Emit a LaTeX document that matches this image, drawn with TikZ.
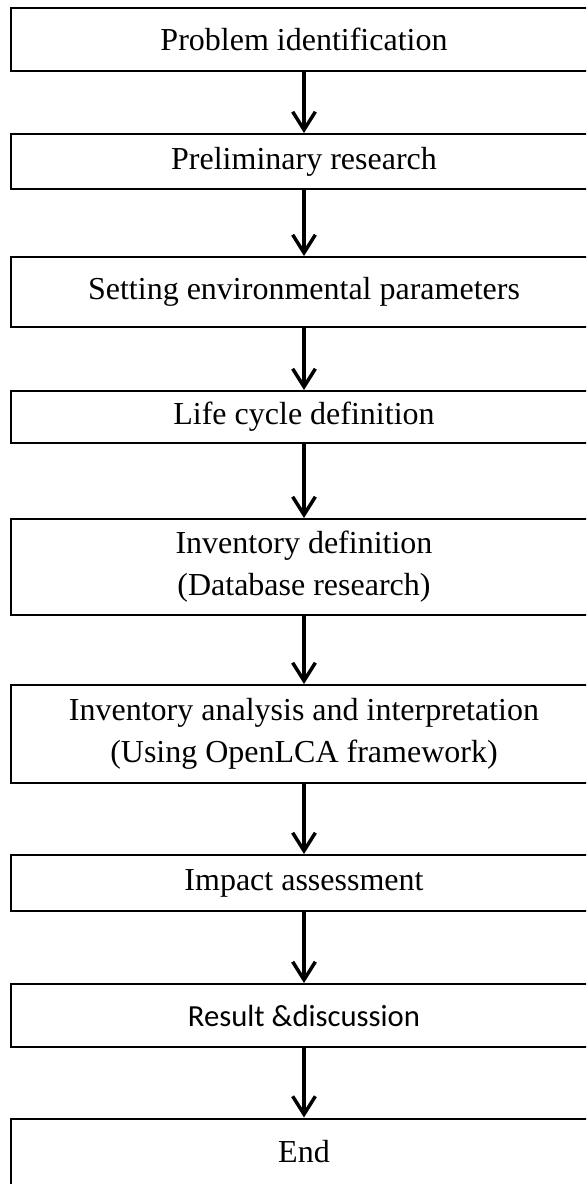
\documentclass[tikz,border=0pt]{standalone}
\usepackage{fontspec}
\setmainfont{Liberation Serif}
\newfontfamily\calibrilike{Carlito}
\usetikzlibrary{arrows.meta}

\tikzset{
  stepbox/.style={draw=black, line width=1.5pt, rectangle, inner sep=0pt,
    minimum width=439.5pt, align=center,
    font=\fontsize{24}{31.5}\selectfont},
  flowarrow/.style={line width=2.6pt,
    -{Straight Barb[length=13.5pt,width=17pt,line width=2.6pt]}}
}

\begin{document}
\begin{tikzpicture}[x=0.75pt,y=-0.75pt]
\useasboundingbox (0,0) rectangle (586,1184);
\clip (0,0) rectangle (586,1184);

% process steps, top to bottom
\node[stepbox, minimum height=47.25pt] (b1) at (304,39.5) {Problem identification};
\node[stepbox, minimum height=41.25pt] (b2) at (304,161.5) {Preliminary research};
\node[stepbox, minimum height=52.5pt]  (b3) at (304,292) {Setting environmental parameters};
\node[stepbox, minimum height=39pt]    (b4) at (304,417) {Life cycle definition};
\node[stepbox, minimum height=72pt]    (b5) at (304,567) {Inventory definition\\(Database research)};
\node[stepbox, minimum height=73.5pt]  (b6) at (304,734) {Inventory analysis and interpretation\\(Using OpenLCA framework)};
\node[stepbox, minimum height=42pt]    (b7) at (304,883) {Impact assessment};
\node[stepbox, minimum height=47.25pt, font=\calibrilike\fontsize{23}{28}\selectfont] (b8) at (304,1015.5) {Result \&discussion};
\node[stepbox, minimum height=50.25pt] (b9) at (304,1152) {End};

% connectors
\draw[flowarrow] (b1) -- (b2);
\draw[flowarrow] (b2) -- (b3);
\draw[flowarrow] (b3) -- (b4);
\draw[flowarrow] (b4) -- (b5);
\draw[flowarrow] (b5) -- (b6);
\draw[flowarrow] (b6) -- (b7);
\draw[flowarrow] (b7) -- (b8);
\draw[flowarrow] (b8) -- (b9);
\end{tikzpicture}
\end{document}
